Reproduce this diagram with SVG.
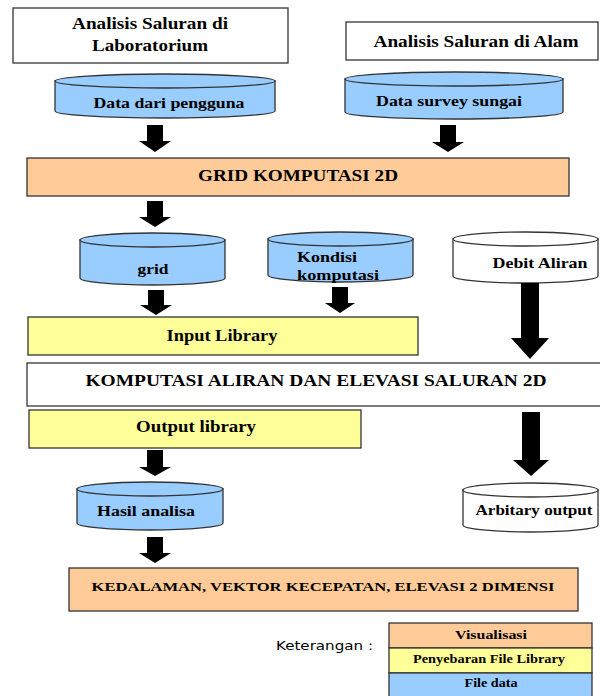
<svg xmlns="http://www.w3.org/2000/svg" width="600" height="696" viewBox="0 0 600 696">
<style>
.box{stroke:#333;stroke-width:1.3}
.w{fill:#fff}.p{fill:#FFCC99}.y{fill:#FFFF99}.b{fill:#99CCFF}
.t{font-family:"Liberation Serif",serif;font-weight:bold;fill:#000;text-anchor:middle}
.s{font-family:"DejaVu Sans","Liberation Sans",sans-serif;font-size:12px;fill:#000}
.arr{fill:#000}
</style>
<rect width="600" height="696" fill="#fff"/>

<g id="lab">
<rect class="box w" x="13" y="8" width="275" height="55"/>
<text class="t" x="150" y="29" font-size="16" textLength="156" lengthAdjust="spacingAndGlyphs">Analisis Saluran di</text>
<text class="t" x="150" y="51" font-size="16" textLength="116" lengthAdjust="spacingAndGlyphs">Laboratorium</text>
</g>
<g id="alam">
<rect class="box w" x="346" y="22" width="252" height="38"/>
<text class="t" x="476" y="47" font-size="16" textLength="205" lengthAdjust="spacingAndGlyphs">Analisis Saluran di Alam</text>
</g>

<g id="cyl-pengguna">
<path class="box b" d="M55,81 V111 A110,7 0 0 0 275,111 V81 Z"/>
<ellipse class="box b" cx="165" cy="81" rx="110" ry="7"/>
<text class="t" x="169" y="108" font-size="14" textLength="151" lengthAdjust="spacingAndGlyphs">Data dari pengguna</text>
</g>
<g id="cyl-survey">
<path class="box b" d="M345,79 V112 A109,7 0 0 0 563,112 V79 Z"/>
<ellipse class="box b" cx="454" cy="79" rx="109" ry="7"/>
<text class="t" x="449" y="106" font-size="14" textLength="146" lengthAdjust="spacingAndGlyphs">Data survey sungai</text>
</g>

<g id="grid2d">
<rect class="box p" x="27" y="158" width="542" height="38"/>
<text class="t" x="298" y="181" font-size="16" textLength="200" lengthAdjust="spacingAndGlyphs">GRID KOMPUTASI 2D</text>
</g>

<g id="cyl-grid">
<path class="box b" d="M80,240 V278 A72.5,7 0 0 0 225,278 V240 Z"/>
<ellipse class="box b" cx="152.5" cy="240" rx="72.5" ry="7"/>
<text class="t" x="153" y="274" font-size="15" textLength="31" lengthAdjust="spacingAndGlyphs">grid</text>
</g>
<g id="cyl-kondisi">
<path class="box b" d="M268,239 V275 A72.5,7 0 0 0 413,275 V239 Z"/>
<ellipse class="box b" cx="340.5" cy="239" rx="72.5" ry="7"/>
<text class="t" x="327" y="262" font-size="14" textLength="60" lengthAdjust="spacingAndGlyphs">Kondisi</text>
<text class="t" x="338" y="280" font-size="14" textLength="82" lengthAdjust="spacingAndGlyphs">komputasi</text>
</g>
<g id="cyl-debit">
<path class="box w" d="M453,239 V276 A72.5,7 0 0 0 598,276 V239 Z"/>
<ellipse class="box w" cx="525.5" cy="239" rx="72.5" ry="7"/>
<text class="t" x="540" y="268" font-size="14" textLength="95" lengthAdjust="spacingAndGlyphs">Debit Aliran</text>
</g>

<g id="input-lib">
<rect class="box y" x="28" y="317" width="390" height="38"/>
<text class="t" x="222" y="341" font-size="16" textLength="111" lengthAdjust="spacingAndGlyphs">Input Library</text>
</g>

<g id="komputasi">
<rect class="box w" x="27" y="363" width="580" height="43"/>
<text class="t" x="316" y="386" font-size="16" textLength="461" lengthAdjust="spacingAndGlyphs">KOMPUTASI ALIRAN DAN ELEVASI SALURAN 2D</text>
</g>

<g id="output-lib">
<rect class="box y" x="29" y="410" width="332" height="38"/>
<text class="t" x="196" y="432" font-size="16" textLength="120" lengthAdjust="spacingAndGlyphs">Output library</text>
</g>

<g id="cyl-hasil">
<path class="box b" d="M77,489 V523 A73,7 0 0 0 223,523 V489 Z"/>
<ellipse class="box b" cx="150" cy="489" rx="73" ry="7"/>
<text class="t" x="146" y="516" font-size="14" textLength="98" lengthAdjust="spacingAndGlyphs">Hasil analisa</text>
</g>
<g id="cyl-arbitary">
<path class="box w" d="M463,490 V525 A67.5,7 0 0 0 598,525 V490 Z"/>
<ellipse class="box w" cx="530.5" cy="490" rx="67.5" ry="7"/>
<text class="t" x="534" y="515" font-size="14" textLength="117" lengthAdjust="spacingAndGlyphs">Arbitary output</text>
</g>

<g id="kedalaman">
<rect class="box p" x="69" y="568" width="509" height="43"/>
<text class="t" x="323" y="591" font-size="13.5" textLength="463" lengthAdjust="spacingAndGlyphs">KEDALAMAN, VEKTOR KECEPATAN, ELEVASI  2 DIMENSI</text>
</g>

<g id="keterangan">
<text class="s" x="276" y="650" textLength="97" lengthAdjust="spacingAndGlyphs">Keterangan :</text>
</g>

<g id="legend">
<rect class="box p" x="389" y="623" width="203" height="25"/>
<rect class="box y" x="389" y="648" width="203" height="25"/>
<rect class="box b" x="389" y="673" width="203" height="25"/>
<text class="t" x="491" y="639" font-size="12" textLength="72" lengthAdjust="spacingAndGlyphs">Visualisasi</text>
<text class="t" x="489" y="663" font-size="12" textLength="152" lengthAdjust="spacingAndGlyphs">Penyebaran File Library</text>
<text class="t" x="491" y="687" font-size="12" textLength="53" lengthAdjust="spacingAndGlyphs">File data</text>
</g>

<g id="connectors">
<polygon class="arr" points="147,125 163,125 163,141 171,141 155,152 139,141 147,141"/>
<polygon class="arr" points="440,125 456,125 456,142 464,142 448,152 432,142 440,142"/>
<polygon class="arr" points="147,201 163,201 163,217 171,217 155,227 139,217 147,217"/>
<polygon class="arr" points="148,290 164,290 164,305 172,305 156,315 140,305 148,305"/>
<polygon class="arr" points="332,287 348,287 348,303 355,303 340,313 325,303 332,303"/>
<polygon class="arr" points="521,283 539,283 539,338 549,338 530,359 511,338 521,338"/>
<polygon class="arr" points="147,450 163,450 163,467 171,467 155,476 139,467 147,467"/>
<polygon class="arr" points="522,412 540,412 540,460 549,460 531,476 513,460 522,460"/>
<polygon class="arr" points="147,537 163,537 163,553 171,553 155,563 139,553 147,553"/>
</g>
</svg>
